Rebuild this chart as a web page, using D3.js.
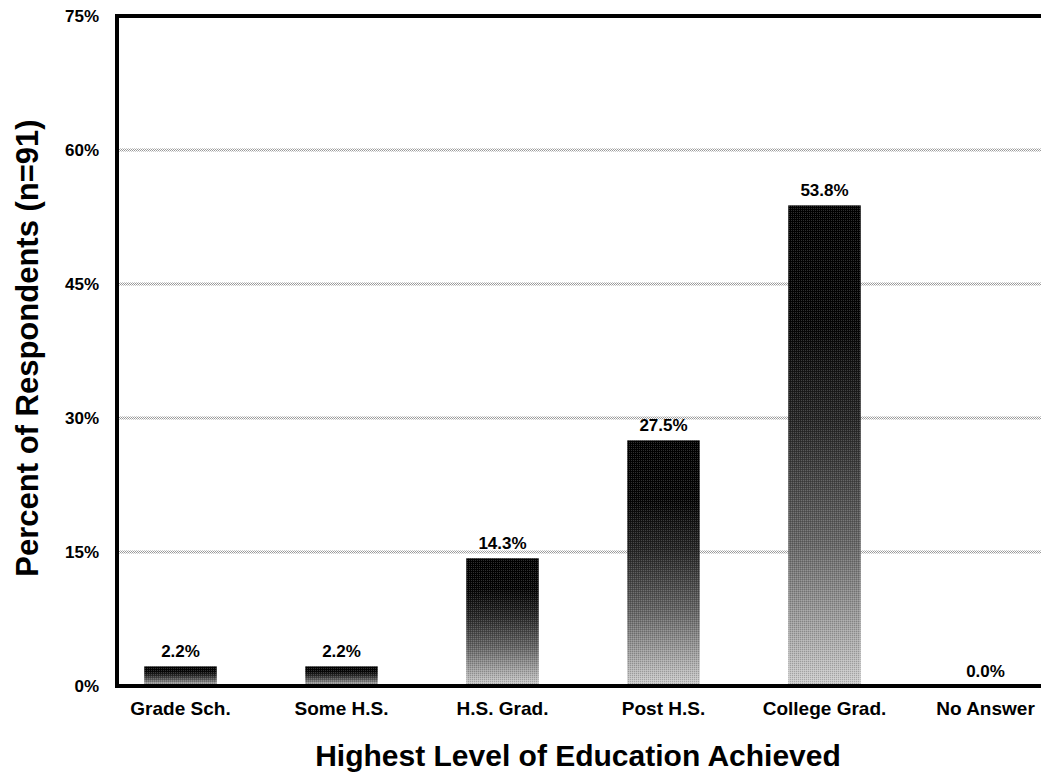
<!DOCTYPE html>
<html>
<head>
<meta charset="utf-8">
<script src="https://cdn.jsdelivr.net/npm/d3@7"></script>
<style>
  html, body { margin: 0; padding: 0; background: #fff; }
  svg { display: block; }
  text { font-family: "Liberation Sans", Arial, Helvetica, sans-serif; font-weight: bold; fill: #000; }
</style>
</head>
<body>
<svg id="chart" width="1041" height="775"></svg>
<script>
// Education survey: share of respondents by highest level achieved
const categories = ["Grade Sch.", "Some H.S.", "H.S. Grad.", "Post H.S.", "College Grad.", "No Answer"];
const percents   = [2.2, 2.2, 14.3, 27.5, 53.8, 0.0];
const yTicks     = [0, 15, 30, 45, 60, 75];
const yTitle     = "Percent of Respondents (n=91)";
const xTitle     = "Highest Level of Education Achieved";

const svg = d3.select("#chart");
const plot = { left: 117, right: 1041, top: 16, bottom: 686 };

const y = d3.scaleLinear().domain([0, 75]).range([plot.bottom, plot.top]);
const x = d3.scaleBand().domain(categories).range([100, 1066])
  .paddingInner(0.55).paddingOuter(0.275);

const defs = svg.append("defs");

// stippled halftone used for the grid lines
const stip = defs.append("pattern").attr("id", "stipple")
  .attr("width", 2).attr("height", 2).attr("patternUnits", "userSpaceOnUse");
stip.append("rect").attr("width", 2).attr("height", 2).attr("fill", "#fff");
stip.append("rect").attr("x", 0).attr("y", 0).attr("width", 1).attr("height", 1).attr("fill", "#9a9a9a");
stip.append("rect").attr("x", 1).attr("y", 1).attr("width", 1).attr("height", 1).attr("fill", "#9a9a9a");

// vertical fade from black at the top of each bar to light grey at its base
const grad = defs.append("linearGradient").attr("id", "barFade")
  .attr("x1", 0).attr("y1", 0).attr("x2", 0).attr("y2", 1);
[[0, "#000"], [0.25, "#050505"], [0.45, "#262626"], [0.7, "#666"], [1, "#cfcfcf"]]
  .forEach(([o, c]) => grad.append("stop").attr("offset", o).attr("stop-color", c));

// fine dot screen laid over the bars
const dots = defs.append("pattern").attr("id", "screen")
  .attr("width", 2).attr("height", 2).attr("patternUnits", "userSpaceOnUse");
dots.append("rect").attr("x", 1).attr("y", 0).attr("width", 1).attr("height", 1).attr("fill", "#fff");
dots.append("rect").attr("x", 0).attr("y", 1).attr("width", 1).attr("height", 1).attr("fill", "#000");

const rows = categories.map((c, i) => ({ c, v: percents[i] }));

// grid lines
svg.append("g").selectAll("rect")
  .data(yTicks.filter(t => t > 0 && t < 75))
  .join("rect")
  .attr("x", plot.left)
  .attr("y", d => y(d) - 1.5)
  .attr("width", plot.right - plot.left)
  .attr("height", 3)
  .attr("fill", "url(#stipple)");

// bars
const bars = svg.append("g");
bars.selectAll("rect.bar")
  .data(rows.filter(d => d.v > 0))
  .join("rect")
  .attr("class", "bar")
  .attr("x", d => x(d.c))
  .attr("y", d => y(d.v))
  .attr("width", x.bandwidth())
  .attr("height", d => plot.bottom - y(d.v))
  .attr("fill", "url(#barFade)");
bars.selectAll("rect.screen")
  .data(rows.filter(d => d.v > 0))
  .join("rect")
  .attr("class", "screen")
  .attr("x", d => x(d.c))
  .attr("y", d => y(d.v))
  .attr("width", x.bandwidth())
  .attr("height", d => plot.bottom - y(d.v))
  .attr("fill", "url(#screen)")
  .attr("opacity", 0.18);

// value labels
svg.append("g").selectAll("text")
  .data(rows)
  .join("text")
  .attr("x", d => x(d.c) + x.bandwidth() / 2)
  .attr("y", d => y(d.v) - 9)
  .attr("text-anchor", "middle")
  .attr("font-size", 17)
  .text(d => d.v.toFixed(1) + "%");

// frame: left, top and bottom rules
svg.append("line").attr("x1", plot.left).attr("x2", plot.left)
  .attr("y1", plot.top - 2).attr("y2", plot.bottom + 2)
  .attr("stroke", "#000").attr("stroke-width", 4);
svg.append("line").attr("x1", plot.left - 2).attr("x2", plot.right)
  .attr("y1", plot.top).attr("y2", plot.top)
  .attr("stroke", "#000").attr("stroke-width", 4);
svg.append("line").attr("x1", plot.left - 2).attr("x2", plot.right)
  .attr("y1", plot.bottom).attr("y2", plot.bottom)
  .attr("stroke", "#000").attr("stroke-width", 4);

// y axis labels
const yAxis = svg.append("g")
  .attr("transform", `translate(${plot.left - 18},0)`)
  .call(d3.axisLeft(y).tickValues(yTicks).tickSize(0).tickPadding(0)
    .tickFormat(d => d + "%"));
yAxis.select(".domain").remove();
yAxis.selectAll("text").attr("font-size", 17).attr("font-family", null);

// x axis labels
const xAxis = svg.append("g")
  .attr("transform", `translate(0,${plot.bottom})`)
  .call(d3.axisBottom(x).tickSize(0).tickPadding(0));
xAxis.select(".domain").remove();
xAxis.selectAll("text").attr("font-size", 19).attr("font-family", null)
  .attr("dy", null).attr("y", 29);

// axis titles
svg.append("text")
  .attr("transform", `translate(38,348) rotate(-90)`)
  .attr("text-anchor", "middle")
  .attr("font-size", 31)
  .text(yTitle);
svg.append("text")
  .attr("x", 578).attr("y", 766)
  .attr("text-anchor", "middle")
  .attr("font-size", 30)
  .text(xTitle);
</script>
</body>
</html>
